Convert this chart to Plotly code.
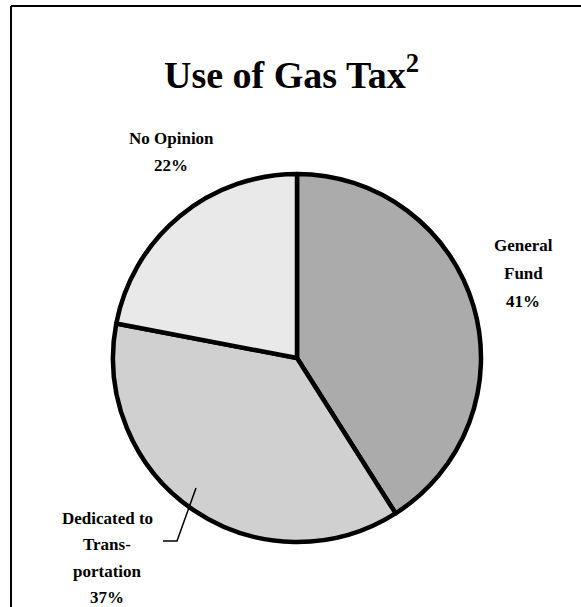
import plotly.graph_objects as go

W, H = 581, 607

# data
labels = ["General Fund", "Dedicated to Transportation", "No Opinion"]
values = [41, 37, 22]
label_lines = [["General", "Fund"], ["Dedicated to", "Trans-", "portation"], ["No Opinion"]]
colors = ["#ababab", "#d0d0d0", "#e9e9e9"]

# pie placement in pixels
cx, cy, r = 297, 358, 184


def px_x(x):
    return x / W


def px_y(y):
    return 1 - y / H


fig = go.Figure(go.Pie(
    labels=labels,
    values=values,
    sort=False,
    direction="clockwise",
    rotation=0,
    textinfo="none",
    hoverinfo="label+percent",
    marker=dict(colors=colors, line=dict(color="black", width=4.5)),
    domain=dict(x=[px_x(cx - r), px_x(cx + r)], y=[px_y(cy + r), px_y(cy - r)]),
    showlegend=False,
))

# label blocks: (center x, center y of first line, line step)
label_pos = [(523, 246, 27.5), (107, 518, 26.5), (171, 138, 27.5)]
fs = 17
annotations = []
for (lx, ly, step), lines, v in zip(label_pos, label_lines, values):
    for i, t in enumerate(lines + [f"{v}%"]):
        annotations.append(dict(
            x=px_x(lx), y=px_y(ly + i * step), xref="paper", yref="paper",
            text=f"<b>{t}</b>", showarrow=False, xanchor="center", yanchor="middle",
            font=dict(family="Liberation Serif", size=fs, color="black"),
        ))

annotations.append(dict(
    x=px_x(291), y=px_y(83 - 0.3 * 38), xref="paper", yref="paper",
    text="<b>Use of Gas Tax<sup>2</sup></b>", showarrow=False,
    xanchor="center", yanchor="middle",
    font=dict(family="Liberation Serif", size=38, color="black"),
))

shapes = [
    # frame (left and top edges)
    dict(type="line", xref="paper", yref="paper", x0=px_x(11), x1=px_x(11), y0=px_y(6), y1=0,
         line=dict(color="black", width=2)),
    dict(type="line", xref="paper", yref="paper", x0=px_x(11), x1=1, y0=px_y(6), y1=px_y(6),
         line=dict(color="black", width=2)),
    # leader line for the transportation label
    dict(type="path", xref="paper", yref="paper",
         path=f"M {px_x(163)},{px_y(541)} L {px_x(177)},{px_y(541)} L {px_x(196)},{px_y(488)}",
         line=dict(color="black", width=1.5)),
]

fig.update_layout(
    width=W, height=H,
    margin=dict(l=0, r=0, t=0, b=0),
    paper_bgcolor="white",
    plot_bgcolor="white",
    annotations=annotations,
    shapes=shapes,
)

fig.write_html("out.html", config={"displayModeBar": False},
               post_script="document.body.style.margin='0px';")
